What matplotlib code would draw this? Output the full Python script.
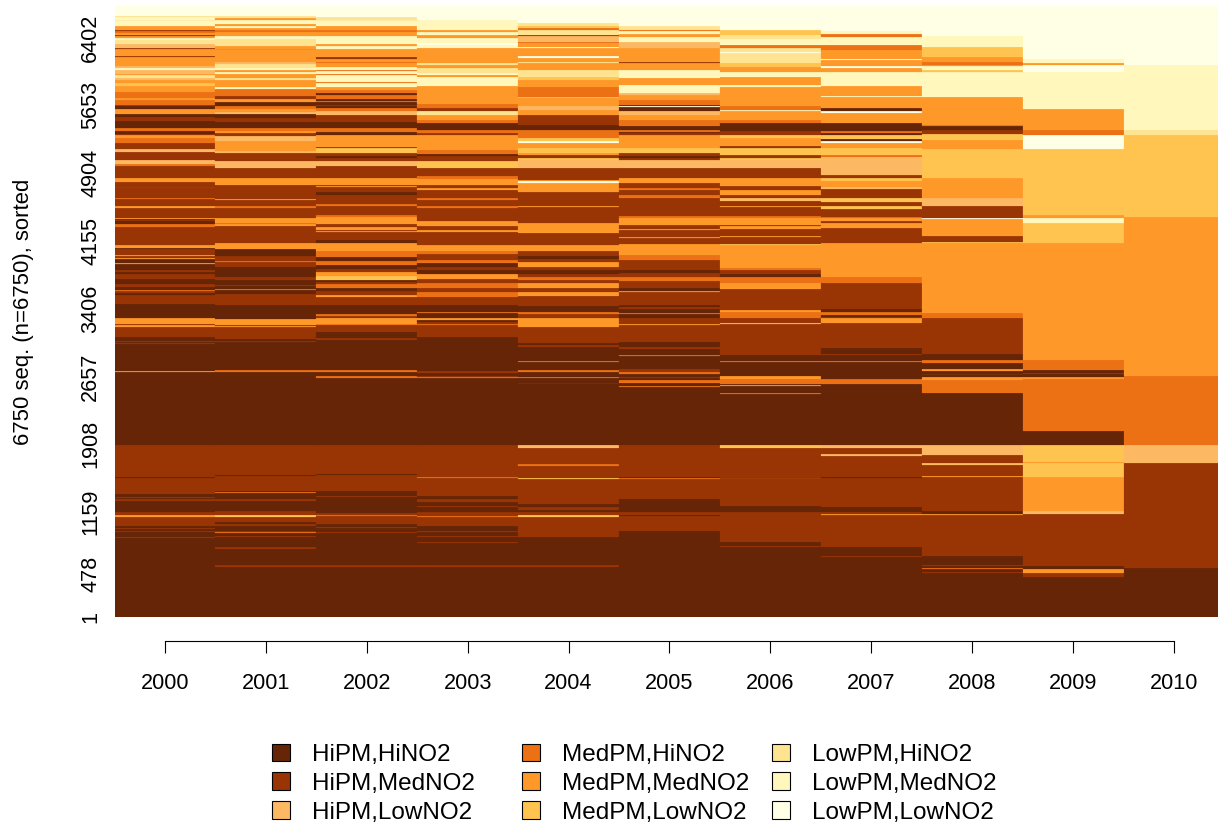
import matplotlib
matplotlib.use("Agg")
import matplotlib.pyplot as plt
from matplotlib.patches import Patch

plt.rcParams["font.family"] = ["Liberation Sans", "DejaVu Sans"]

years = [2000, 2001, 2002, 2003, 2004, 2005, 2006, 2007, 2008, 2009, 2010]
state_names = ["HiPM,HiNO2", "HiPM,MedNO2", "HiPM,LowNO2",
               "MedPM,HiNO2", "MedPM,MedNO2", "MedPM,LowNO2",
               "LowPM,HiNO2", "LowPM,MedNO2", "LowPM,LowNO2"]
state_colors = ["#662506", "#993404", "#FDB863",
                "#EC7014", "#FE9929", "#FEC44F",
                "#FEE391", "#FFF7BC", "#FFFFE5"]
y_ticks = [1, 478, 1159, 1908, 2657, 3406, 4155, 4904, 5653, 6402]
n_seq = 6750

# Each run: (state number 1-9, last sequence index of the run), bottom to top.
runs_2000 = [(1,873),(2,884),(1,943),(2,954),(1,976),(2,983),(1,1005),(2,1108),(5,1127),(2,1160),(1,1285),(2,1300),(1,1315),(2,1322),(1,1355),(2,1539),(1,1547),(2,1900),(1,2707),(5,2718),(1,3018),(2,3029),(1,3040),(2,3051),(1,3096),(2,3208),(5,3226),(2,3237),(5,3304),(1,3459),
 (2,3558),(1,3577),(2,3600),(4,3614),(1,3651),(2,3680),(1,3735),(2,3790),(1,3815),(2,3830),(1,3900),(5,3915),(1,3950),(5,3962),(2,3990),(5,4000),(2,4060),(1,4080),(5,4110),(2,4314),(4,4340),(1,4375),(2,4385),(1,4395),(5,4410),(2,4520),(5,4540),(2,4620),(4,4630),(2,4745),(5,4755),(2,4805),(5,4850),(2,4985),(4,5000),(3,5045),(2,5135),(3,5165),(2,5240),(4,5290),(5,5325),(2,5340),(1,5365),(4,5400),(1,5475),(2,5520),(1,5552),(5,5610),(1,5640),(2,5660),(4,5715),(5,5730),(4,5800),(5,5870),(6,5900),(5,5930),(3,5960),(7,5985),(5,6000),(3,6040),(8,6070),(3,6090),(5,6105),(5,6185),(2,6195),(5,6275),(2,6290),(3,6330),(7,6370),(8,6400),(5,6420),(2,6435),(5,6450),(4,6470),(2,6480),(5,6525),(8,6590),(5,6600),(8,6625),(7,6640),(9,6750)]
runs_2001 = [(1,555),(2,570),(1,752),(2,770),(1,880),(2,890),(1,925),(4,935),(2,950),(1,1000),(2,1030),(1,1045),(2,1100),(6,1125),(2,1170),(1,1278),(2,1300),(1,1370),(4,1385),(1,1395),(2,1560),(1,1570),(2,1900),(1,2710),(4,2730),(1,3040),(2,3050),(1,3075),(2,3200),(5,3215),(2,3225),(5,3290),(1,3450),
 (2,3570),(1,3610),(4,3625),(1,3655),(2,3670),(1,3720),(2,3760),(1,3870),(2,3920),(4,3935),(2,3990),(1,4060),(5,4130),(2,4320),(5,4340),(4,4355),(5,4405),(2,4515),(4,4540),(2,4605),(5,4615),(2,4770),(5,4850),(2,4965),(3,5040),(2,5125),(3,5150),(5,5260),(3,5310),(2,5345),(5,5365),(4,5400),(1,5470),(2,5515),(1,5555),(3,5580),(5,5610),(4,5650),(1,5690),(5,5720),(2,5760),(4,5830),(8,5860),(5,5930),(7,5960),(5,6000),(8,6020),(5,6040),(8,6070),(7,6105),(3,6130),(5,6270),(2,6280),(5,6310),(7,6390),(8,6420),(5,6460),(4,6480),(5,6505),(8,6530),(5,6550),(8,6600),(5,6620),(7,6635),(9,6750)]
runs_2002 = [(1,555),(2,570),(1,925),(2,935),(1,985),(2,997),(1,1030),(2,1120),(4,1130),(2,1145),(1,1330),(2,1340),(1,1395),(2,1565),(1,1575),(2,1900),(1,2645),(4,2665),(1,2710),(4,2725),(1,3065),(2,3085),(1,3145),(2,3226),(4,3237),(5,3304),(2,3325),(4,3345),(1,3450),
 (2,3530),(5,3560),(2,3600),(1,3640),(4,3680),(2,3700),(1,3720),(6,3770),(5,3815),(2,3850),(1,3890),(4,3930),(1,3975),(4,4040),(5,4130),(1,4160),(2,4250),(5,4265),(2,4275),(5,4310),(2,4345),(5,4420),(4,4440),(2,4545),(4,4560),(2,4660),(1,4690),(2,4750),(5,4763),(2,4775),(5,4848),(2,4977),(3,5035),(2,5075),(1,5090),(2,5130),(6,5180),(2,5195),(5,5330),(1,5362),(4,5400),(1,5474),(2,5550),(3,5590),(4,5620),(1,5640),(2,5660),(1,5690),(4,5705),(1,5725),(4,5770),(1,5790),(4,5820),(5,5860),(8,5895),(4,5910),(8,5985),(4,6000),(8,6030),(4,6045),(8,6080),(5,6120),(4,6135),(5,6170),(2,6185),(5,6280),(8,6305),(5,6330),(8,6420),(5,6460),(4,6490),(5,6530),(8,6590),(5,6600),(7,6625),(9,6750)]
runs_2003 = [(1,555),(2,570),(1,820),(2,832),(1,880),(2,892),(1,940),(2,950),(1,1000),(2,1110),(4,1120),(2,1165),(1,1210),(2,1225),(1,1275),(2,1300),(1,1340),(2,1535),(4,1550),(2,1900),(1,2635),(4,2650),(2,2660),(1,2700),(2,2720),(1,3040),(1,3090),(2,3225),(4,3240),(2,3260),(1,3285),(5,3300),(1,3355),(4,3365),(1,3450),
 (2,3530),(4,3590),(2,3640),(4,3695),(2,3730),(5,3790),(1,3830),(2,3870),(1,3910),(4,3940),(2,4005),(4,4040),(5,4110),(2,4175),(2,4250),(5,4270),(2,4315),(5,4370),(2,4520),(4,4535),(2,4610),(4,4625),(2,4720),(5,4740),(2,4775),(5,4835),(4,4875),(2,4960),(6,5040),(2,5095),(1,5120),(4,5160),(5,5320),(2,5350),(4,5385),(1,5460),(4,5490),(5,5545),(7,5590),(2,5620),(4,5665),(5,5750),(5,5870),(8,5970),(5,5990),(8,6015),(7,6070),(5,6100),(7,6125),(5,6285),(8,6320),(9,6340),(8,6395),(5,6425),(8,6460),(5,6480),(8,6590),(9,6750)]
runs_2004 = [(1,555),(2,570),(1,880),(2,1100),(6,1125),(2,1160),(1,1180),(2,1215),(1,1250),(2,1525),(6,1537),(2,1670),(4,1685),(2,1870),(3,1900),(1,2580),(5,2590),(1,2635),(4,2650),(1,2710),(4,2725),(1,2820),(4,2830),(1,2987),(2,3000),(1,3030),(2,3205),(5,3300),(2,3345),(4,3370),(1,3440),
 (2,3550),(5,3595),(2,3640),(5,3685),(2,3720),(4,3760),(2,3790),(1,3830),(2,3870),(5,3925),(2,3950),(1,3990),(2,4040),(5,4110),(2,4240),(5,4350),(2,4530),(5,4545),(2,4700),(5,4800),(9,4812),(5,4830),(2,4960),(3,5050),(6,5075),(2,5100),(5,5130),(6,5180),(5,5240),(9,5255),(6,5290),(4,5380),(1,5440),(2,5550),(5,5600),(3,5650),(5,5730),(3,5750),(4,5860),(5,5935),(6,5970),(7,6045),(5,6120),(7,6130),(5,6175),(9,6200),(5,6285),(9,6295),(5,6340),(4,6350),(3,6415),(2,6430),(7,6480),(4,6510),(6,6530),(7,6560),(9,6750)]
runs_2005 = [(1,950),(2,1115),(1,1125),(2,1160),(1,1300),(2,1525),(4,1537),(1,1550),(2,1900),(1,2545),(4,2555),(1,2590),(4,2620),(1,2635),(2,2655),(1,2690),(4,2705),(2,2735),(1,2885),(4,2895),(1,2965),(2,2985),(1,3040),(2,3225),(5,3235),(2,3300),(1,3345),(4,3355),(1,3400),
 (2,3420),(1,3445),(2,3590),(5,3600),(1,3640),(2,3710),(4,3755),(2,3800),(1,3830),(2,3945),(4,4000),(5,4120),(2,4185),(5,4200),(2,4280),(5,4290),(2,4330),(5,4405),(4,4430),(2,4625),(4,4660),(2,4720),(4,4740),(2,4800),(5,4850),(2,4955),(3,5045),(2,5075),(1,5090),(2,5130),(6,5180),(5,5330),(2,5345),(1,5360),(4,5380),(1,5420),(4,5490),(5,5545),(3,5585),(1,5630),(9,5640),(1,5655),(4,5715),(5,5770),(3,5790),(8,5880),(5,5950),(8,6040),(5,6120),(2,6130),(5,6285),(3,6355),(8,6410),(5,6440),(8,6470),(4,6480),(7,6530),(9,6750)]
runs_2006 = [(1,770),(2,780),(1,830),(2,1155),(1,1225),(2,1532),(5,1540),(2,1870),(6,1900),(1,2460),(4,2472),(1,2550),(5,2565),(1,2575),(4,2625),(5,2660),(1,2820),(4,2832),(1,2895),(2,2965),(2,3237),(6,3250),(2,3300),(4,3365),(5,3392),
 (2,3620),(5,3688),(4,3760),(1,3790),(2,3835),(4,3855),(5,4110),(6,4120),(2,4195),(5,4205),(2,4285),(5,4320),(2,4330),(5,4405),(4,4430),(2,4525),(5,4540),(2,4600),(3,4625),(2,4665),(5,4720),(2,4760),(5,4850),(2,4955),(3,5045),(6,5070),(2,5105),(6,5180),(2,5200),(5,5290),(6,5330),(2,5365),(1,5455),(4,5490),(5,5585),(8,5603),(4,5645),(5,5850),(8,5880),(5,5965),(8,6025),(5,6080),(6,6120),(7,6230),(9,6240),(7,6290),(4,6315),(8,6385),(7,6430),(6,6485),(9,6750)]
runs_2007 = [(1,667),(2,677),(1,774),(2,1127),(5,1140),(2,1165),(1,1212),(2,1540),(1,1550),(2,1782),(3,1800),(2,1870),(3,1900),(1,2575),(4,2625),(1,2820),(4,2832),(1,2895),(2,2907),(1,2975),(2,3245),(5,3300),(2,3310),(1,3340),(4,3365),(1,3400),
 (2,3688),(4,3761),(5,4130),(2,4299),(5,4358),(2,4370),(5,4405),(4,4420),(2,4505),(6,4545),(2,4590),(6,4625),(2,4725),(3,4750),(5,4822),(6,4850),(2,4885),(3,5080),(4,5105),(6,5180),(5,5235),(9,5260),(1,5280),(6,5330),(1,5350),(4,5370),(1,5460),(5,5570),(9,5595),(1,5620),(5,5750),(8,5760),(5,5870),(8,6025),(5,6060),(9,6085),(5,6150),(9,6170),(5,6265),(4,6320),(8,6410),(4,6440),(8,6470),(9,6750)]
runs_2008 = [(1,438),(2,447),(1,483),(2,492),(1,527),(4,540),(1,565),(2,575),(1,674),(2,1127),(5,1140),(1,1175),(2,1545),(5,1560),(2,1675),(3,1700),(2,1795),(3,1900),(1,2471),(4,2618),(5,2655),(1,2680),(5,2690),(1,2720),(5,2735),(1,2810),(4,2840),(1,2905),(2,3300),(4,3362),(5,4130),(6,4140),(2,4205),(5,4395),(9,4412),(2,4545),(3,4625),(5,4850),(6,5168),(5,5265),(6,5335),(2,5382),(1,5420),(4,5435),(5,5750),(8,6026),(6,6040),(8,6085),(5,6100),(4,6130),(5,6190),(6,6300),(8,6420),(9,6750)]
runs_2009 = [(1,438),(2,490),(5,530),(1,565),(2,1138),(3,1167),(5,1550),(6,1705),(5,1715),(6,1900),(1,2059),(4,2626),(5,2655),(1,2685),(2,2700),(1,2730),(4,2840),(5,4137),(6,4358),(8,4405),(5,4437),(6,5168),(9,5325),(4,5375),(5,5610),(8,6026),(9,6093),(5,6120),(8,6160),(9,6750)]
runs_2010 = [(1,538),(2,1698),(3,1900),(4,2663),(5,4417),(6,5326),(7,5382),(8,6100),(9,6750)]
all_runs = [runs_2000, runs_2001, runs_2002, runs_2003, runs_2004, runs_2005,
            runs_2006, runs_2007, runs_2008, runs_2009, runs_2010]

W, H = 1218, 824
fig = plt.figure(figsize=(W / 100, H / 100), dpi=100, facecolor="white")
ax = fig.add_axes([114.5 / W, 1 - 617 / H, (W - 114.5) / W, 611 / H])

for year, runs in zip(years, all_runs):
    prev = 0
    for state, upto in runs:
        if upto > prev:
            c = state_colors[state - 1]
            ax.bar(year, upto - prev, bottom=prev, width=1.0, color=c,
                   edgecolor=c, linewidth=0.15)
            prev = upto

ax.set_xlim(1999.5, 1999.5 + (W - 114.5) / 100.9)
ax.set_ylim(0, n_seq)
for s in ("top", "left", "right"):
    ax.spines[s].set_visible(False)
ax.spines["bottom"].set_position(("outward", 17.3))
ax.spines["bottom"].set_bounds(years[0], years[-1])
ax.spines["bottom"].set_linewidth(0.8)
ax.set_xticks(years)
ax.set_xticklabels([str(y) for y in years], fontsize=15.6)
ax.tick_params(axis="x", length=8.5, width=0.8, pad=14.5)
ax.set_yticks(y_ticks)
ax.set_yticklabels([str(v) for v in y_ticks], fontsize=15.6, rotation=90, va="center")
ax.tick_params(axis="y", length=0, pad=9.5)
fig.text(24 / W, 1 - 312 / H, "6750 seq. (n=6750), sorted", rotation=90,
         ha="center", va="center", fontsize=15.9)

handles = [Patch(facecolor=c, edgecolor="black", linewidth=0.8) for c in state_colors]
for i, x_px in enumerate((272, 522, 772)):
    leg = fig.legend(handles[i * 3:i * 3 + 3], state_names[i * 3:i * 3 + 3],
                     loc="upper left", bbox_to_anchor=(x_px / W, 1 - 743.5 / H),
                     frameon=False, fontsize=17.5, borderpad=0, borderaxespad=0,
                     handlelength=0.75, handleheight=0.75, handletextpad=0.9,
                     labelspacing=0.27)

fig.savefig("out.png", dpi=100)
